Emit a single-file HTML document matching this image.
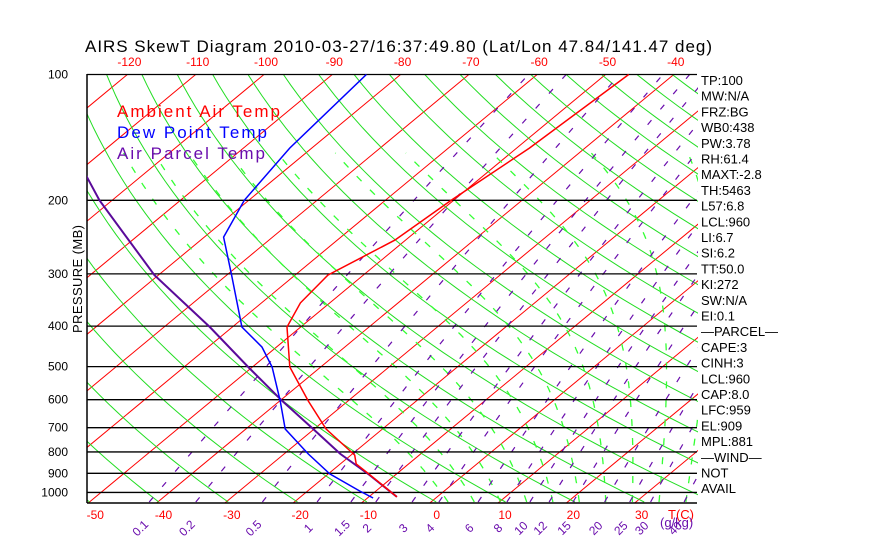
<!DOCTYPE html>
<html><head><meta charset="utf-8"><style>
html,body{margin:0;padding:0;background:#fff;}
svg{display:block;font-family:"Liberation Sans",sans-serif;}
</style></head><body>
<svg id="c" width="870" height="560" viewBox="0 0 870 560" xmlns="http://www.w3.org/2000/svg">
<defs><clipPath id="clip"><rect x="87" y="74" width="611" height="429"/></clipPath></defs>
<text x="85" y="52" font-size="17" fill="#000" textLength="627" lengthAdjust="spacing">AIRS SkewT Diagram 2010-03-27/16:37:49.80 (Lat/Lon 47.84/141.47 deg)</text>
<g id="grid" clip-path="url(#clip)"></g>
<g id="marks"></g>
<g id="labels"></g>
<text transform="translate(82,279) rotate(-90)" text-anchor="middle" font-size="13" textLength="108" lengthAdjust="spacing">PRESSURE (MB)</text>
<text x="117" y="117" font-size="17" fill="#ff0000" textLength="163" lengthAdjust="spacing">Ambient Air Temp</text>
<text x="117" y="138" font-size="17" fill="#0000ff" textLength="150" lengthAdjust="spacing">Dew Point Temp</text>
<text x="117" y="159" font-size="17" fill="#6a0dad" textLength="148" lengthAdjust="spacing">Air Parcel Temp</text>
<text x="668" y="519" font-size="13" fill="#ff0000">T(C)</text>
<text x="660" y="527" font-size="13" fill="#6a0dad">(g/kg)</text>
</svg>
<script>
const pressureLevels=[100,200,300,400,500,600,700,800,900,1000];
const topTempTicks=[-120,-110,-100,-90,-80,-70,-60,-50,-40];
const bottomTempTicks=[-50,-40,-30,-20,-10,0,10,20,30];
const mixingRatios=[0.1,0.2,0.5,1,1.5,2,3,4,6,8,10,12,15,20,25,30,40];
const ambientP=[1025,903,855,814,705,604,501,402,352,302,249,200,150,100];
const ambientT=[-5.7,-13.9,-17.5,-19.3,-28.1,-35.7,-44.4,-51.9,-54.2,-55.1,-51.5,-50.3,-48.1,-46.6];
const dewP=[1031,992,903,809,705,604,501,449,402,302,245,200,150,100];
const dewT=[-9.0,-12.2,-19.6,-26.3,-34.1,-39.8,-47.0,-52.0,-58.5,-69.2,-77.1,-80.6,-83.2,-85.0];
const parcelP=[1025,903,809,705,604,501,402,302,200,175];
const parcelT=[-5.7,-14.0,-21.6,-30.0,-39.5,-50.5,-63.2,-80.5,-101.8,-108];
const indexLabels=["TP:100","MW:N/A","FRZ:BG","WB0:438","PW:3.78","RH:61.4","MAXT:-2.8","TH:5463","L57:6.8","LCL:960","LI:6.7","SI:6.2","TT:50.0","KI:272","SW:N/A","EI:0.1","\u2014PARCEL\u2014","CAPE:3","CINH:3","LCL:960","CAP:8.0","LFC:959","EL:909","MPL:881","\u2014WIND\u2014","NOT","AVAIL"];

const NS="http://www.w3.org/2000/svg";
const PB=1054, YB=503;
function yP(p){return 74.5+181.5*Math.log(p/100);}
function xT(t,p){return 428.5+6.83*t+1.21*(YB-yP(p));}
const grid=document.getElementById('grid'),marks=document.getElementById('marks'),labels=document.getElementById('labels');
function el(tag,at,parent){const e=document.createElementNS(NS,tag);for(const k in at)e.setAttribute(k,at[k]);parent.appendChild(e);return e;}
function pts(ps,ts){return ps.map((p,i)=>xT(ts[i],p).toFixed(1)+','+yP(p).toFixed(1)).join(' ');}
function plevs(a,b,n){const r=[];for(let i=0;i<=n;i++)r.push(a*Math.pow(b/a,i/n));return r;}

for(let t=-170;t<=50;t+=10){
  const l=el('line',{x1:xT(t,PB),y1:YB,x2:xT(t,100),y2:yP(100),stroke:'#ff0000','stroke-width':1},grid);
  
  
}
for(let th=190;th<=560;th+=10){
  const ps=plevs(PB,100,40);const ts=ps.map(p=>th*Math.pow(p/1000,0.286)-273.15);
  const l=el('polyline',{points:pts(ps,ts),fill:'none',stroke:'#22dd22','stroke-width':1},grid);
  
  
}
function es(t){return 6.112*Math.exp(17.67*t/(t+243.5));}
function dTdp(T,p){const rs=0.622*es(T-273.15)/(p-es(T-273.15));return (287*T+2.5e6*rs)/(p*(1004+2.5e6*2.5e6*rs*0.622/(287*T*T)));}
for(let t0=0;t0<=44;t0+=4){
  const ps=[],ts=[];let T=t0+273.15;
  for(let p2=1000;p2<PB;p2+=2){T+=dTdp(T,p2)*2;}
  for(let p=PB;p>=150;p-=5){ps.push(p);ts.push(T-273.15);T-=dTdp(T,p)*5;}
  const l=el('polyline',{points:pts(ps,ts),fill:'none',stroke:'#33ff33','stroke-width':1.3,'stroke-dasharray':'7 12'},grid);
  
  
}
function tdW(w,p){const e=w*p/(622+w);const L=Math.log(e/6.112);return 243.5*L/(17.67-L);}
mixingRatios.forEach(w=>{
  const ps=plevs(PB,100,30);const ts=ps.map(p=>tdW(w,p));
  const l=el('polyline',{points:pts(ps,ts),fill:'none',stroke:'#6a0dad','stroke-width':1.2,'stroke-dasharray':'6 14'},grid);
  
  
  const x=xT(tdW(w,PB),PB);
  const tx=el('text',{x:0,y:0,transform:'translate('+(x-6).toFixed(1)+',531) rotate(-45)','font-size':12,fill:'#6a0dad','text-anchor':'middle'},labels);
  tx.textContent=String(w);
  
  
});
pressureLevels.forEach(p=>{
  const l=el('line',{x1:87,y1:yP(p),x2:697,y2:yP(p),stroke:'#000','stroke-width':1.3},marks);
  
  
  const t=el('text',{x:68,y:yP(p)+4,'font-size':12,'text-anchor':'end'},labels);
  t.textContent=String(p);
  
  
});
const bl=el('line',{x1:87,y1:YB,x2:697,y2:YB,stroke:'#000','stroke-width':1.5},marks);


const ll=el('line',{x1:87,y1:74,x2:87,y2:YB,stroke:'#000','stroke-width':1.5},marks);


topTempTicks.forEach(t=>{
  const tx=el('text',{x:xT(t,100)+2,y:66,'font-size':12,fill:'#ff0000','text-anchor':'middle'},labels);
  tx.textContent=String(t);
  
  
});
bottomTempTicks.forEach(t=>{
  const tx=el('text',{x:xT(t,PB)+7,y:519,'font-size':12,fill:'#ff0000','text-anchor':'middle'},labels);
  tx.textContent=String(t);
  
  
});
const g2=document.createElementNS(NS,'g');g2.setAttribute('clip-path','url(#clip)');marks.appendChild(g2);
const sP=el('polyline',{points:pts(parcelP,parcelT),fill:'none',stroke:'#5a0a9a','stroke-width':2},g2);


const sD=el('polyline',{points:pts(dewP,dewT),fill:'none',stroke:'#0000ff','stroke-width':1.5},g2);


const sA=el('polyline',{points:pts(ambientP,ambientT),fill:'none',stroke:'#ff0000','stroke-width':1.5},g2);


indexLabels.forEach((s,i)=>{
  const tx=el('text',{x:701,y:85+i*15.7,'font-size':13},labels);
  tx.textContent=s;
  
  
});
</script>
</body></html>
